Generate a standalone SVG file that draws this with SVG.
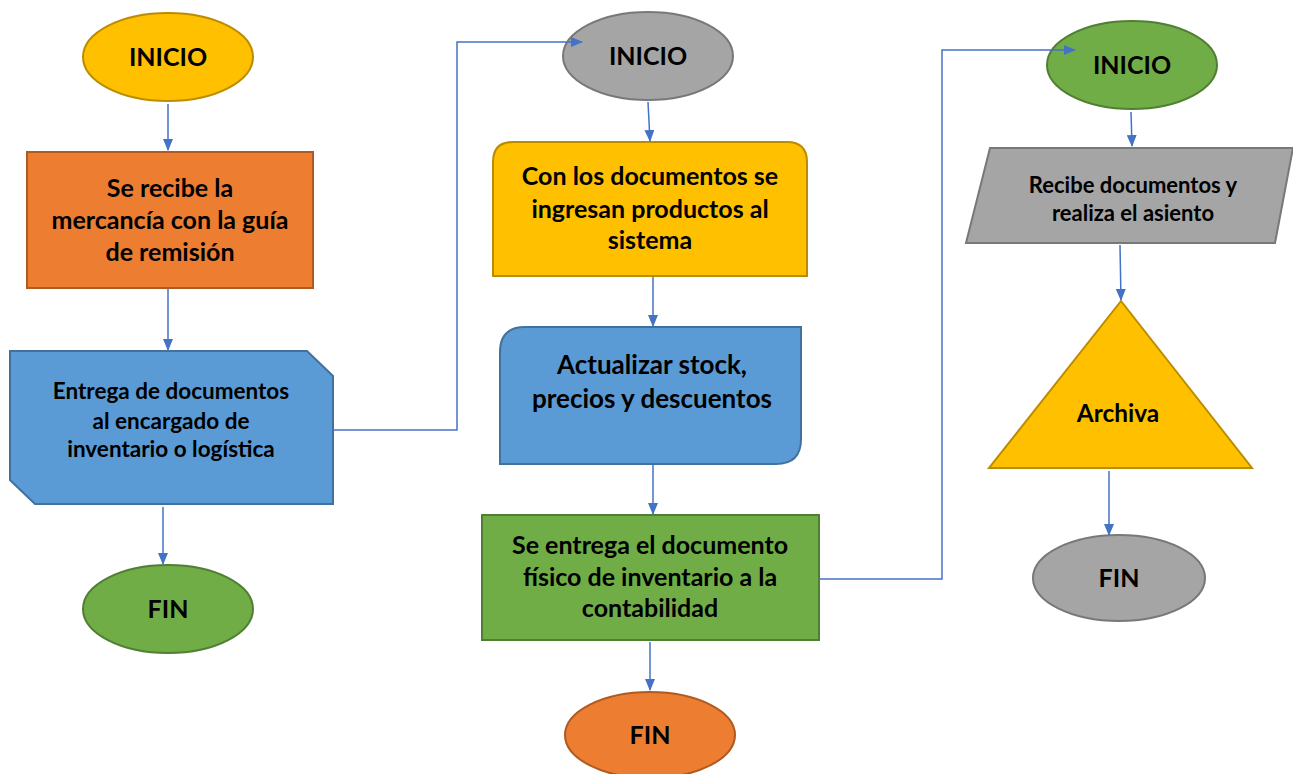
<svg xmlns="http://www.w3.org/2000/svg" width="1293" height="774" viewBox="0 0 1293 774">
<defs>
<marker id="arr" markerWidth="12" markerHeight="10" refX="11" refY="5" orient="auto" markerUnits="userSpaceOnUse">
<path d="M0,0 L12,5 L0,10 Z" fill="#4472C4"/>
</marker>
<style>
text{font-family:Lato,"Liberation Sans",sans-serif;font-weight:bold;fill:#000;text-anchor:middle}
.c{fill:none;stroke:#4472C4;stroke-width:1.5;marker-end:url(#arr)}
.yel{fill:#FFC000;stroke:#BC8C00;stroke-width:2}
.ora{fill:#ED7D31;stroke:#AE5A21;stroke-width:2}
.blu{fill:#5B9BD5;stroke:#41719C;stroke-width:2}
.gre{fill:#70AD47;stroke:#507E32;stroke-width:2}
.gry{fill:#A5A5A5;stroke:#787878;stroke-width:2}
.tE{font-size:25px}
.t25{font-size:25px}
.t26{font-size:26px}
.t22{font-size:22.5px}
.t21{font-size:22px}
.t24{font-size:24.4px}
</style>
</defs>
<rect width="1293" height="774" fill="#fff"/>
<g id="n1">
<ellipse class="yel" cx="168" cy="57" rx="85" ry="44"/>
<text class="tE" x="168" y="66">INICIO</text>
</g>
<g id="n2">
<rect class="ora" x="27" y="152" width="286" height="136"/>
<text class="t25"><tspan x="170" y="197">Se recibe la</tspan><tspan x="170" y="229">mercancía con la guía</tspan><tspan x="170" y="261">de remisión</tspan></text>
</g>
<g id="n3">
<path class="blu" d="M10,351 H307 L333,376 V504 H35 L10,480 Z"/>
<text class="t22"><tspan x="171" y="399">Entrega de documentos</tspan><tspan x="171" y="429">al encargado de</tspan><tspan x="171" y="457">inventario o logística</tspan></text>
</g>
<g id="n4">
<ellipse class="gre" cx="168" cy="609" rx="85" ry="44"/>
<text class="tE" x="168" y="618">FIN</text>
</g>
<g id="n5">
<ellipse class="gry" cx="648" cy="56" rx="85" ry="44"/>
<text class="tE" x="648" y="65">INICIO</text>
</g>
<g id="n6">
<path class="yel" d="M493,276 V162 Q493,142 513,142 H787 Q807,142 807,162 V276 Z"/>
<text class="t25"><tspan x="650" y="185">Con los documentos se</tspan><tspan x="650" y="218">ingresan productos al</tspan><tspan x="650" y="249">sistema</tspan></text>
</g>
<g id="n7">
<path class="blu" d="M525,327 H801 V439 Q801,464 776,464 H500 V352 Q500,327 525,327 Z"/>
<text class="t26"><tspan x="652" y="374">Actualizar stock,</tspan><tspan x="652" y="408">precios y descuentos</tspan></text>
</g>
<g id="n8">
<rect class="gre" x="482" y="515" width="337" height="125"/>
<text class="t25"><tspan x="650" y="554">Se entrega el documento</tspan><tspan x="650" y="586">físico de inventario a la</tspan><tspan x="650" y="617">contabilidad</tspan></text>
</g>
<g id="n9">
<ellipse class="ora" cx="650" cy="735" rx="85" ry="43"/>
<text class="tE" x="650" y="744">FIN</text>
</g>
<g id="n10">
<ellipse class="gre" cx="1132" cy="65" rx="85" ry="44"/>
<text class="tE" x="1132" y="74">INICIO</text>
</g>
<g id="n11">
<path class="gry" d="M990,148 H1293 L1275,243 H966 Z"/>
<text class="t21"><tspan x="1133" y="193">Recibe documentos y</tspan><tspan x="1133" y="221">realiza el asiento</tspan></text>
</g>
<g id="n12">
<path class="yel" d="M1121,301 L1252,468 H989 Z"/>
<text class="t24" x="1118" y="422">Archiva</text>
</g>
<g id="n13">
<ellipse class="gry" cx="1119" cy="578" rx="86" ry="43"/>
<text class="tE" x="1119" y="587">FIN</text>
</g>
<g id="connectors">
<path class="c" d="M168,104 V150"/>
<path class="c" d="M168,289 V350"/>
<path class="c" d="M333,430 H457 V42 H582"/>
<path class="c" d="M163,507 V564"/>
<path class="c" d="M648,102 L650,141"/>
<path class="c" d="M653,277 V326"/>
<path class="c" d="M653,465 V514"/>
<path class="c" d="M819,579 H942 V50 H1075"/>
<path class="c" d="M650,642 V690"/>
<path class="c" d="M1131,112 L1132,146"/>
<path class="c" d="M1120,245 L1121,300"/>
<path class="c" d="M1109,471 V535"/>
</g>
</svg>
